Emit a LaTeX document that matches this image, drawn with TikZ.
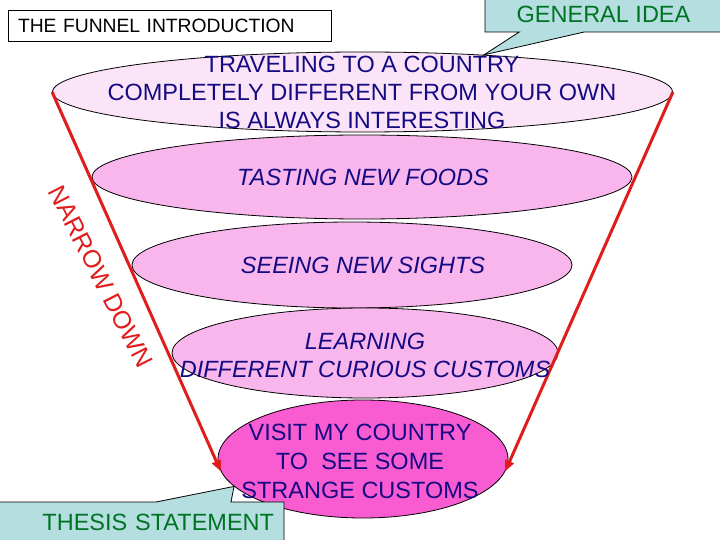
\documentclass[tikz,border=0pt]{standalone}
\usepackage{fontspec}
\setmainfont{Liberation Sans}
\usetikzlibrary{shapes.geometric,shapes.callouts,arrows.meta}
\definecolor{navytxt}{RGB}{20,10,130}
\definecolor{greentxt}{RGB}{0,115,35}
\definecolor{calloutfill}{RGB}{180,222,224}
\definecolor{pinkA}{RGB}{252,228,248}
\definecolor{pinkB}{RGB}{249,182,236}
\definecolor{pinkC}{RGB}{249,92,208}
\definecolor{arrowred}{RGB}{225,28,28}
\newcommand\fsBig{\fontsize{23.5}{28}\selectfont}
\newcommand\fsBot{\fontsize{23.5}{29}\selectfont}
\tikzset{
  funnel/.style={ellipse, draw=black, line width=0.8pt, inner sep=0pt},
  lbl/.style={align=center, text=navytxt, font=\fsBig, inner sep=0pt},
  callbox/.style={rectangle callout, draw=black, line width=0.8pt, fill=calloutfill,
                  text=greentxt, font=\fontsize{23.5}{28}\selectfont},
  redarrow/.style={draw=arrowred, line width=3pt, -{Triangle[length=11pt,width=9pt]}}
}
\begin{document}
\begin{tikzpicture}[x=1pt,y=-1pt]
\useasboundingbox (0,0) rectangle (720,540);
\clip (0,0) rectangle (720,540);
\fill[white] (0,0) rectangle (720,540);

% funnel ellipses
\node[funnel, fill=pinkA, minimum width=620pt, minimum height=80pt] (e1) at (362.5,92) {};
\node[funnel, fill=pinkB, minimum width=540pt, minimum height=84pt] (e2) at (362,177) {};
\node[funnel, fill=pinkB, minimum width=440pt, minimum height=86pt] (e3) at (352,265) {};
\node[funnel, fill=pinkB, minimum width=386pt, minimum height=90pt] (e4) at (365,353) {};
\node[funnel, fill=pinkC, minimum width=290pt, minimum height=118pt] (e5) at (363,459) {};

% red narrowing arrows
\draw[redarrow] (e1.west) -- (e5.185);
\draw[redarrow] (e1.east) -- (e5.-5);

% title box
\node[draw=black, line width=0.8pt, minimum height=31pt, text width=303pt,
      inner xsep=10pt, inner ysep=0pt, align=left, font=\fontsize{19.3}{22}\selectfont]
      (title) at (169.5,25.5) {THE FUNNEL INTRODUCTION};

% callouts
\node[callbox, minimum width=237pt, minimum height=35pt, inner sep=0pt,
      callout absolute pointer={(e1.17)}, callout pointer width=65pt]
      (gi) at (603.5,14.5) {GENERAL IDEA};
\node[callbox, minimum width=285pt, minimum height=40pt, text width=265pt,
      inner xsep=10pt, inner ysep=0pt, align=right,
      callout absolute pointer={(e5.192)}, callout pointer width=75pt]
      (ts) at (141.5,522) {THESIS STATEMENT};

% narrow down text
\node[rotate=-63, text=arrowred, font=\fontsize{25}{28}\selectfont, inner sep=0pt]
      (nd) at (101,277) {NARROW DOWN};

% labels
\node[lbl] (t1) at (362,92) {TRAVELING TO A COUNTRY\\COMPLETELY DIFFERENT FROM YOUR OWN\\IS ALWAYS INTERESTING};
\node[lbl, font=\fsBig\itshape] (t2) at (363,177) {TASTING NEW FOODS};
\node[lbl, font=\fsBig\itshape] (t3) at (363,265) {SEEING NEW SIGHTS};
\node[lbl, font=\fsBig\itshape] (t4) at (365,355) {LEARNING\\DIFFERENT CURIOUS CUSTOMS};
\node[lbl, font=\fsBot] (t5) at (360,461) {VISIT MY COUNTRY\\TO\ \ SEE SOME\\STRANGE CUSTOMS};
\end{tikzpicture}
\end{document}
